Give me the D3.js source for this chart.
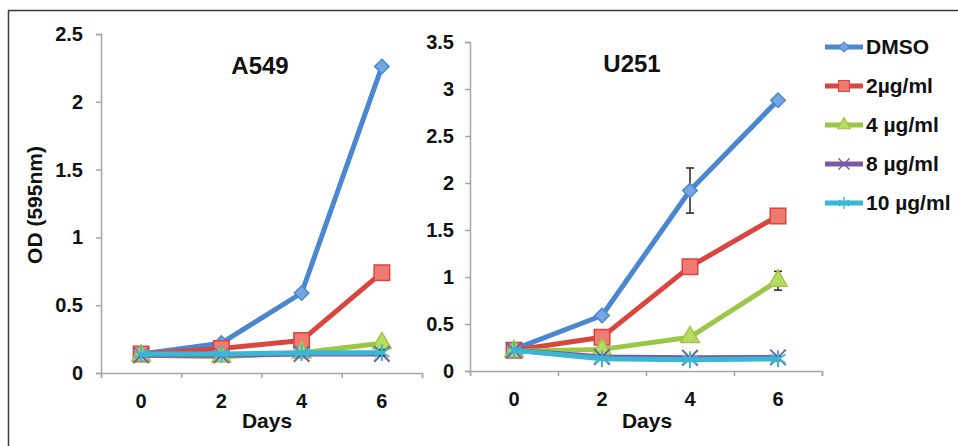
<!DOCTYPE html>
<meta charset="utf-8">
<script src="https://d3js.org/d3.v7.min.js"></script>
<style>
  body { margin: 0; background: #fff; }
  text { font-family: "Liberation Sans", Arial, sans-serif; font-weight: bold; fill: #111; }
</style>
<div id="chart"></div>
<script>
    // data
    var days = ["0", "2", "4", "6"];
    var seriesNames = ["DMSO", "2\u00b5g/ml", "4 \u00b5g/ml", "8 \u00b5g/ml", "10 \u00b5g/ml"];

    var a549 = [
        [0.14, 0.22, 0.59, 2.26],
        [0.14, 0.18, 0.24, 0.74],
        [0.13, 0.12, 0.15, 0.22],
        [0.13, 0.13, 0.14, 0.14],
        [0.14, 0.14, 0.15, 0.15]
    ];
    var a549Err = [
        [0, 0, 0, 0],
        [0, 0, 0, 0],
        [0, 0, 0, 0.02],
        [0, 0, 0, 0],
        [0, 0, 0, 0.02]
    ];

    var u251 = [
        [0.23, 0.59, 1.92, 2.88],
        [0.22, 0.36, 1.11, 1.65],
        [0.21, 0.23, 0.36, 0.96],
        [0.22, 0.15, 0.14, 0.145],
        [0.22, 0.13, 0.12, 0.13]
    ];
    var u251Err = [
        [0, 0, 0.24, 0],
        [0, 0, 0, 0],
        [0, 0, 0, 0.1],
        [0, 0, 0, 0],
        [0, 0, 0, 0.02]
    ];

    var a549Ticks = [0, 0.5, 1, 1.5, 2, 2.5];
    var u251Ticks = [0, 0.5, 1, 1.5, 2, 2.5, 3, 3.5];

    var lineColors = ["#4a87d0", "#d9463f", "#9cc746", "#7b5aa6", "#3bb6d5"];
    var fillColors = ["#74a6e2", "#f07b72", "#b6da62", "#9a7cc4", "#6dcce6"];
    var symbols = ["diamond", "square", "triangle", "x", "asterisk"];

    var width = 958, height = 446;

    var svg = d3.select("#chart").append("svg")
        .attr("width", width)
        .attr("height", height);

    // frame (top and left edges only)
    svg.append("path")
        .attr("d", "M8.5," + height + "V10.5H" + width)
        .attr("fill", "none")
        .attr("stroke", "#3a3a3a")
        .attr("stroke-width", 1.5);

    function marker(g, type, color, fill) {
        if (type == "x" || type == "asterisk") {
            g.append("path")
                .attr("d", d3.symbol(type == "x" ? d3.symbolX : d3.symbolAsterisk, type == "x" ? 160 : 200)())
                .attr("fill", "none")
                .attr("stroke", color)
                .attr("stroke-width", 2);
            return;
        }
        var p = g.append("path");
        if (type == "diamond") {
            p.attr("d", d3.symbol(d3.symbolSquare, 105)()).attr("transform", "rotate(45)");
        } else if (type == "square") {
            p.attr("d", d3.symbol(d3.symbolSquare, 240)());
        } else {
            p.attr("d", d3.symbol(d3.symbolTriangle, 150)());
        }
        p.attr("fill", fill).attr("stroke", color).attr("stroke-width", 1.5);
    }

    function drawPanel(opt) {
        var x = d3.scaleBand().domain(days).range([opt.x0, opt.x1]).padding(0);
        var xEdge = d3.scaleLinear().domain([0, days.length]).range([opt.x0, opt.x1]);
        var y = d3.scaleLinear().domain([0, opt.yMax]).range([opt.y0, opt.yTop]);

        var g = svg.append("g");

        // y axis
        var yAxis = g.append("g")
            .attr("transform", "translate(" + opt.x0 + ",0)")
            .call(d3.axisLeft(y).tickValues(opt.ticks).tickSize(5).tickPadding(opt.pad)
                .tickFormat(d3.format("")));
        yAxis.selectAll("text").attr("font-size", "20px").attr("fill", "#111");

        // x axis, ticks sit on the category edges
        g.append("g")
            .attr("transform", "translate(0," + opt.y0 + ")")
            .call(d3.axisBottom(xEdge).tickValues(d3.range(days.length + 1)).tickSize(5)
                .tickFormat(""));

        g.selectAll(".domain, .tick line")
            .attr("stroke", "#a6a6a6")
            .attr("stroke-width", 1.5);

        g.append("g").selectAll("text")
            .data(days)
            .enter()
            .append("text")
            .attr("x", function(d) { return x(d) + x.bandwidth() / 2; })
            .attr("y", opt.y0 + 35)
            .attr("text-anchor", "middle")
            .attr("font-size", "20px")
            .text(function(d) { return d; });

        g.append("text")
            .attr("x", opt.daysX)
            .attr("y", 428)
            .attr("text-anchor", "middle")
            .attr("font-size", "21px")
            .text("Days");

        g.append("text")
            .attr("x", opt.titleX)
            .attr("y", opt.titleY)
            .attr("text-anchor", "middle")
            .attr("font-size", "24px")
            .text(opt.title);

        var line = d3.line()
            .x(function(d, i) { return x(days[i]) + x.bandwidth() / 2; })
            .y(function(d) { return y(d); });

        opt.data.forEach(function(vals, s) {
            var sg = g.append("g");
            sg.append("path")
                .datum(vals)
                .attr("fill", "none")
                .attr("stroke", lineColors[s])
                .attr("stroke-width", 5)
                .attr("stroke-linejoin", "round")
                .attr("d", line);

            // error bars
            vals.forEach(function(v, i) {
                var e = opt.err[s][i];
                if (!e) return;
                var cx = x(days[i]) + x.bandwidth() / 2;
                var eg = sg.append("g").attr("stroke", "#222").attr("stroke-width", 1.5);
                eg.append("line").attr("x1", cx).attr("x2", cx).attr("y1", y(v - e)).attr("y2", y(v + e));
                eg.append("line").attr("x1", cx - 4).attr("x2", cx + 4).attr("y1", y(v - e)).attr("y2", y(v - e));
                eg.append("line").attr("x1", cx - 4).attr("x2", cx + 4).attr("y1", y(v + e)).attr("y2", y(v + e));
            });

            vals.forEach(function(v, i) {
                var mg = sg.append("g")
                    .attr("transform", "translate(" + (x(days[i]) + x.bandwidth() / 2) + "," + y(v) + ")");
                marker(mg, symbols[s], lineColors[s], fillColors[s]);
            });
        });

        if (opt.yTitle) {
            g.append("text")
                .attr("transform", "translate(42,205) rotate(-90)")
                .attr("text-anchor", "middle")
                .attr("font-size", "21px")
                .text(opt.yTitle);
        }
    }

    drawPanel({
        data: a549, err: a549Err, ticks: a549Ticks, yMax: 2.5,
        x0: 101, x1: 422, y0: 373, yTop: 34, pad: 13,
        title: "A549", titleX: 260, titleY: 74, daysX: 267,
        yTitle: "OD (595nm)"
    });

    drawPanel({
        data: u251, err: u251Err, ticks: u251Ticks, yMax: 3.5,
        x0: 470, x1: 822, y0: 371, yTop: 42, pad: 11,
        title: "U251", titleX: 632, titleY: 72, daysX: 647
    });

    // legend
    var legend = svg.append("g");
    seriesNames.forEach(function(name, s) {
        var ly = 47 + s * 39;
        var lg = legend.append("g");
        lg.append("line")
            .attr("x1", 825).attr("x2", 863)
            .attr("y1", ly).attr("y2", ly)
            .attr("stroke", lineColors[s])
            .attr("stroke-width", 5);
        var mg = lg.append("g").attr("transform", "translate(844," + ly + ") scale(0.7)");
        marker(mg, symbols[s], lineColors[s], fillColors[s]);
        lg.append("text")
            .attr("x", 866)
            .attr("y", ly + 7)
            .attr("font-size", "21px")
            .text(name);
    });
</script>
